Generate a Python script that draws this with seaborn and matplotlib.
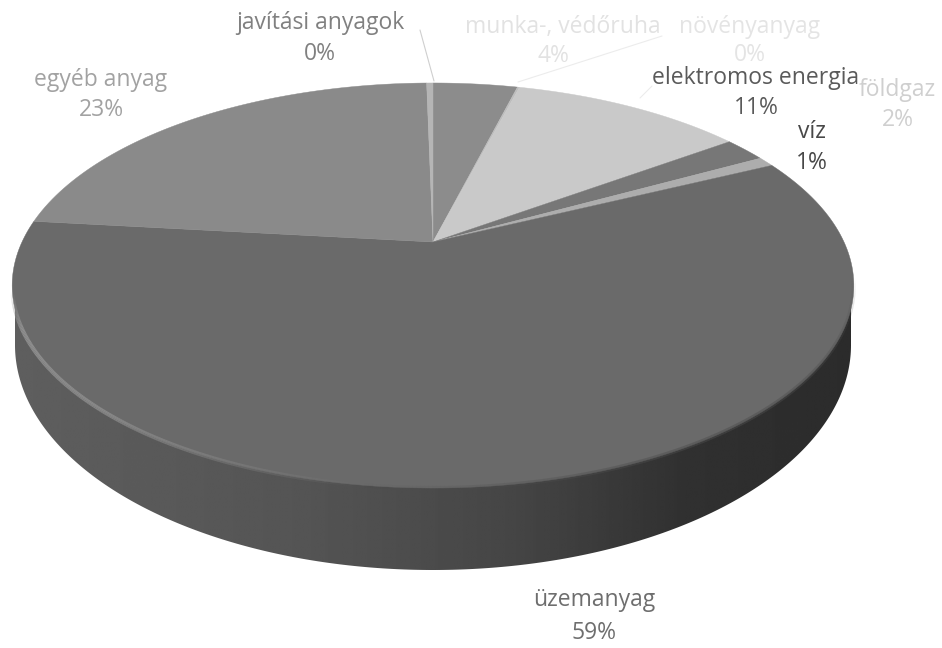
"""
3D looking pie chart of cost shares (greyscale scan)
"""
import numpy as np
import matplotlib
matplotlib.use("Agg")
import matplotlib.pyplot as plt
import seaborn as sns
from matplotlib.collections import LineCollection
from matplotlib.patches import Polygon
from matplotlib.transforms import Affine2D

# Data, clockwise from 12 o'clock
categories = ["munka-, védőruha", "növényanyag", "elektromos energia", "földgaz", "víz",
              "üzemanyag", "egyéb anyag", "javítási anyagok"]
values = [4, 0.1, 11, 2, 0.8, 59, 23, 0.3]
percents = ["4%", "0%", "11%", "2%", "1%", "59%", "23%", "0%"]
slice_colors = ["#8c8c8c", "#bdbdbd", "#c9c9c9", "#777777", "#adadad", "#6a6a6a", "#8a8a8a", "#b5b5b5"]
label_colors = ["#e2e2e2", "#e4e4e4", "#5a5a5a", "#cfcfcf", "#484848", "#6e6e6e", "#a2a2a2", "#808080"]
label_x = [563, 750, 756, 897, 812, 594, 101, 320]
label_y = [27, 27, 78, 90, 132, 600, 80, 23]
pct_x = [553, 750, 756, 898, 812, 594, 101, 320]
pct_y = [56, 55, 108, 120, 163, 633, 110, 54]

# Perspective of the disc, in pixels
CX, APEX_Y = 433, 242
A, B, K = 411, -141.2, 0.2148


def project(verts):
    u, v = verts[:, 0], verts[:, 1]
    w = 1 + K * v
    return np.column_stack([CX + A * u / w, (B * v + APEX_Y) / w])


def circle_points(start, end, n=200):
    t = np.radians(np.linspace(start, end, n))
    return np.column_stack([np.cos(t), np.sin(t)])


sns.set_theme(style="white")
plt.rcParams["font.family"] = ["Open Sans", "DejaVu Sans"]

fig, ax = plt.subplots(figsize=(9.42, 6.48), dpi=100)
fig.subplots_adjust(0, 0, 1, 1)

# Pie gives the wedges, then they get bent onto the tilted disc
wedges, _ = ax.pie(values, colors=slice_colors, startangle=90, counterclock=False, radius=1)
ax.set_aspect("auto")
for wedge, color in zip(wedges, slice_colors):
    # flatten at a big scale so the arc comes out smooth
    trans = wedge.get_patch_transform() + Affine2D().scale(2000)
    verts = trans.transform_path(wedge.get_path()).to_polygons(closed_only=False)[0] / 2000
    wedge.remove()
    ax.add_patch(Polygon(project(verts), closed=True, facecolor=color, edgecolor=color, lw=0.3, zorder=3))

# Side of the disc
t = np.radians(np.linspace(0, 180, 300))
side = np.column_stack([CX + 418 * np.cos(t), 345 + 225 * np.sin(t)])
side = np.vstack([[[851, 285]], side, [[15, 285]]])
side_patch = Polygon(side, closed=True, facecolor="none", edgecolor="none", zorder=1)
ax.add_patch(side_patch)
shade = np.interp(np.linspace(0, 1, 300), [0, 0.35, 0.6, 0.8, 1], [0.37, 0.33, 0.27, 0.19, 0.17])
img = ax.imshow(shade[None, :], extent=(12, 855, 575, 280), cmap="gray", vmin=0, vmax=1,
                aspect="auto", interpolation="bilinear", zorder=1)
img.set_clip_path(side_patch)

# Lit rim along the front edge
rim = project(circle_points(194, 262))
segs = np.stack([rim[:-1], rim[1:]], axis=1)
fade = np.interp(np.linspace(0, 1, len(segs)), [0, 0.15, 0.5, 1], [0, 1, 0.8, 0])
ax.add_collection(LineCollection(segs, colors=[(0.6, 0.6, 0.6, 0.8 * f) for f in fade], linewidths=3, zorder=4))

# Soft dark front edge on the right
rim2 = project(circle_points(262, 350))
segs2 = np.stack([rim2[:-1], rim2[1:]], axis=1)
fade2 = np.sin(np.linspace(0, np.pi, len(segs2)))
ax.add_collection(LineCollection(segs2, colors=[(0.3, 0.3, 0.3, 0.5 * f) for f in fade2],
                                 linewidths=3, zorder=4))

# Leader lines
ax.plot([420, 434], [30, 81], color="#cfcfcf", lw=0.8, zorder=2)
ax.plot([518, 662], [82, 36], color="#ececec", lw=0.8, zorder=2)
ax.plot([640, 652], [98, 86], color="#ececec", lw=0.8, zorder=2)

for i, name in enumerate(categories):
    ax.text(label_x[i], label_y[i], name, color=label_colors[i], fontsize=16.5,
            ha="center", va="center", zorder=5)
    ax.text(pct_x[i], pct_y[i], percents[i], color=label_colors[i], fontsize=16.5,
            ha="center", va="center", zorder=5)

ax.set_xlim(0, 942)
ax.set_ylim(648, 0)
ax.axis("off")

plt.savefig("out.png", dpi=100)
